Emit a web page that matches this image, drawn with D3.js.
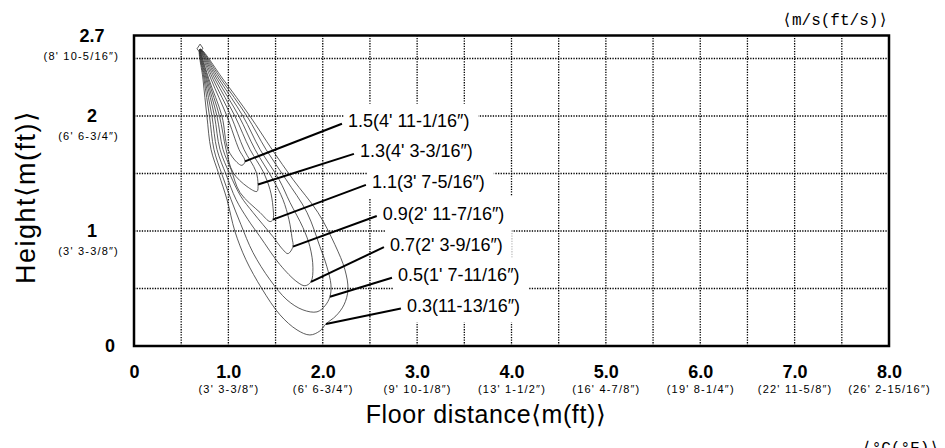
<!DOCTYPE html>
<html><head><meta charset="utf-8">
<script src="https://cdn.jsdelivr.net/npm/d3@7"></script>
<style>body{margin:0;background:#fff;overflow:hidden}</style>
</head><body>
<svg id="c" width="945" height="448"></svg>
<script>
// ---------- data ----------
const xTicks = [0, 1, 2, 3, 4, 5, 6, 7, 8];
const xTickLabels = ["0", "1.0", "2.0", "3.0", "4.0", "5.0", "6.0", "7.0", "8.0"];
const xTickSubLabels = ["", "(3' 3-3/8″)", "(6' 6-3/4″)", "(9' 10-1/8″)", "(13' 1-1/2″)",
  "(16' 4-7/8″)", "(19' 8-1/4″)", "(22' 11-5/8″)", "(26' 2-15/16″)"];
const yTicks = [0, 1, 2, 2.7];
const yTickLabels = ["0", "1", "2", "2.7"];
const yTickSubLabels = ["", "(3' 3-3/8″)", "(6' 6-3/4″)", "(8' 10-5/16″)"];
const gridX = [0.5, 1, 1.5, 2, 2.5, 3, 3.5, 4, 4.5, 5, 5.5, 6, 6.5, 7, 7.5];
const gridY = [0.5, 1, 1.5, 2, 2.5];

const velocityLabels = ["1.5(4' 11-1/16″)", "1.3(4' 3-3/16″)", "1.1(3' 7-5/16″)",
  "0.9(2' 11-7/16″)", "0.7(2' 3-9/16″)", "0.5(1' 7-11/16″)", "0.3(11-13/16″)"];
// label anchor (start of text, vertical middle) in data units
const labelAnchors = [[2.267, 1.959], [2.394, 1.697], [2.521, 1.427], [2.636, 1.156],
  [2.712, 0.886], [2.797, 0.620], [2.892, 0.353]];
// point of each contour that the leader touches
const leaderTargets = [[1.176, 1.606], [1.314, 1.405], [1.472, 1.099], [1.684, 0.864],
  [1.875, 0.558], [2.076, 0.428], [2.034, 0.192]];

// iso-velocity contours [floor distance m, height m]
const contour15 = [[0.70,2.58],[0.794,2.321],[0.932,1.998],[0.996,1.710],[1.091,1.597],[1.144,1.571],
  [1.176,1.606],[1.112,1.710],[0.985,1.998],[0.816,2.321]];
const contour13 = [[0.70,2.58],[0.784,2.321],[0.906,1.998],[0.975,1.710],[1.049,1.510],[1.197,1.387],
  [1.303,1.344],[1.314,1.405],[1.292,1.518],[1.165,1.710],[1.028,1.998],[0.837,2.321]];
const contour11 = [[0.70,2.58],[0.773,2.321],[0.879,1.998],[0.943,1.710],[1.028,1.536],[1.123,1.335],
  [1.335,1.161],[1.441,1.082],[1.472,1.099],[1.472,1.213],[1.441,1.361],[1.367,1.518],[1.229,1.710],
  [1.070,1.998],[0.858,2.321]];
const contour09 = [[0.70,2.58],[0.763,2.321],[0.853,1.998],[0.911,1.710],[1.017,1.492],[1.133,1.300],
  [1.261,1.161],[1.472,0.951],[1.578,0.838],[1.631,0.803],[1.684,0.864],[1.674,0.942],[1.642,1.099],
  [1.578,1.274],[1.472,1.449],[1.282,1.710],[1.112,1.998],[0.879,2.321]];
const contour07 = [[0.70,2.58],[0.752,2.321],[0.826,1.998],[0.879,1.710],[0.975,1.492],[1.081,1.274],
  [1.208,1.099],[1.335,0.951],[1.547,0.707],[1.727,0.558],[1.811,0.524],[1.875,0.558],[1.896,0.681],
  [1.864,0.864],[1.790,1.030],[1.653,1.248],[1.536,1.449],[1.335,1.710],[1.155,1.998],[0.900,2.321]];
const contour05 = [[0.70,2.58],[0.742,2.321],[0.800,1.998],[0.847,1.710],[0.932,1.492],[1.028,1.274],
  [1.133,1.056],[1.261,0.812],[1.441,0.576],[1.621,0.401],[1.790,0.314],[1.939,0.297],[2.023,0.349],
  [2.076,0.428],[2.087,0.532],[2.044,0.689],[1.970,0.864],[1.833,1.161],[1.610,1.449],[1.398,1.710],
  [1.197,1.998],[0.922,2.321]];
const contour03 = [[0.70,2.58],[0.731,2.321],[0.773,1.998],[0.816,1.710],[0.900,1.492],[0.985,1.274],
  [1.070,0.995],[1.186,0.750],[1.356,0.497],[1.547,0.271],[1.727,0.140],[1.864,0.096],[1.970,0.131],
  [2.034,0.192],[2.140,0.262],[2.225,0.358],[2.267,0.489],[2.235,0.663],[2.129,0.881],[1.949,1.161],
  [1.684,1.449],[1.462,1.710],[1.229,1.998],[0.943,2.321]];
const contours = [contour15, contour13, contour11, contour09, contour07, contour05, contour03];
const outletMark = [[0.668,2.585],[0.70,2.625],[0.730,2.590],[0.70,2.550]];

// ---------- drawing ----------
const svg = d3.select("#c");
const x = d3.scaleLinear().domain([0, 8]).range([134, 889]);
const y = d3.scaleLinear().domain([0, 2.7]).range([346, 35.5]);
const SANS = "'Liberation Sans', Arial, 'DejaVu Sans', sans-serif";
const MONO = "'Liberation Mono', 'DejaVu Sans Mono', monospace";

const gGrid = svg.append("g");
const gBox = svg.append("g");
const gCont = svg.append("g");
const gLead = svg.append("g");
const gText = svg.append("g");

gGrid.selectAll("line.v").data(gridX).join("line")
  .attr("x1", d => x(d)).attr("x2", d => x(d)).attr("y1", y(0)).attr("y2", y(2.7))
  .attr("stroke", "#000").attr("stroke-width", 1.3).attr("stroke-dasharray", "1.3,1.3");
gGrid.selectAll("line.h").data(gridY).join("line")
  .attr("y1", d => y(d)).attr("y2", d => y(d)).attr("x1", x(0)).attr("x2", x(8))
  .attr("stroke", "#000").attr("stroke-width", 1.3).attr("stroke-dasharray", "1.3,1.3");

// labels + white boxes
velocityLabels.forEach((t, i) => {
  const px = x(labelAnchors[i][0]), py = y(labelAnchors[i][1]);
  const tx = gText.append("text").attr("x", px).attr("y", py).attr("dy", "0.36em")
    .attr("font-family", SANS).attr("font-size", 18).attr("fill", "#000").text(t);
  const bb = tx.node().getBBox();
  gBox.append("rect").attr("x", bb.x - 4).attr("y", py - 17)
    .attr("width", bb.width + 13).attr("height", 34).attr("fill", "#fff");
  gLead.append("line").attr("x1", px - 6).attr("y1", py + 3)
    .attr("x2", x(leaderTargets[i][0])).attr("y2", y(leaderTargets[i][1]))
    .attr("stroke", "#000").attr("stroke-width", 2);
});

const line = d3.line().x(d => x(d[0])).y(d => y(d[1])).curve(d3.curveCatmullRomClosed.alpha(0.5));
gCont.selectAll("path.c").data(contours).join("path")
  .attr("d", line).attr("fill", "none").attr("stroke", "#333").attr("stroke-width", 0.8);
gCont.append("path").attr("d", d3.line().x(d => x(d[0])).y(d => y(d[1])).curve(d3.curveLinearClosed)(outletMark))
  .attr("fill", "none").attr("stroke", "#333").attr("stroke-width", 0.8);

// frame
svg.append("rect").attr("x", x(0)).attr("y", y(2.7)).attr("width", x(8) - x(0)).attr("height", y(0) - y(2.7))
  .attr("fill", "none").attr("stroke", "#000").attr("stroke-width", 2.5);

// x axis
const xAxisG = svg.append("g").attr("transform", `translate(0,${y(0)})`)
  .call(d3.axisBottom(x).tickValues(xTicks).tickSize(0).tickPadding(19).tickFormat((d, i) => xTickLabels[i]));
xAxisG.select(".domain").remove();
xAxisG.selectAll(".tick text").attr("font-family", SANS).attr("font-size", 18).attr("font-weight", "bold").attr("fill", "#000");
xAxisG.selectAll(".tick").append("text").attr("y", 47).attr("text-anchor", "middle")
  .attr("font-family", SANS).attr("font-size", 11).attr("letter-spacing", 1.2).attr("fill", "#000")
  .text((d, i) => xTickSubLabels[i]);

// y axis
const yAxisG = svg.append("g").attr("transform", `translate(${x(0)},0)`)
  .call(d3.axisLeft(y).tickValues(yTicks).tickSize(0).tickFormat((d, i) => yTickLabels[i]));
yAxisG.select(".domain").remove();
yAxisG.selectAll(".tick text").attr("x", d => d === 0 ? -24 : -42).attr("text-anchor", "middle")
  .attr("font-family", SANS).attr("font-size", 18).attr("font-weight", "bold").attr("fill", "#000");
yAxisG.selectAll(".tick").append("text").attr("x", -15).attr("y", 20).attr("dy", "0.35em").attr("text-anchor", "end")
  .attr("font-family", SANS).attr("font-size", 11).attr("letter-spacing", 1.2).attr("fill", "#000")
  .text((d, i) => yTickSubLabels[i]);

// titles
svg.append("text").attr("x", 486).attr("y", 423).attr("text-anchor", "middle")
  .attr("font-family", SANS).attr("font-size", 25).attr("letter-spacing", 0.6).attr("fill", "#000")
  .text("Floor distance⟨m(ft)⟩");
svg.append("text").attr("transform", "translate(26,197) rotate(-90)").attr("dy", "0.35em").attr("text-anchor", "middle")
  .attr("font-family", SANS).attr("font-size", 27).attr("letter-spacing", 1.5).attr("fill", "#000")
  .text("Height⟨m(ft)⟩");
svg.append("text").attr("x", 888).attr("y", 25).attr("text-anchor", "end")
  .attr("font-family", MONO).attr("font-size", 16).attr("fill", "#000").text("⟨m/s(ft/s)⟩");
svg.append("text").attr("x", 862).attr("y", 453)
  .attr("font-family", MONO).attr("font-size", 16).attr("fill", "#000").text("⟨°C(°F)⟩");
</script>
</body></html>
